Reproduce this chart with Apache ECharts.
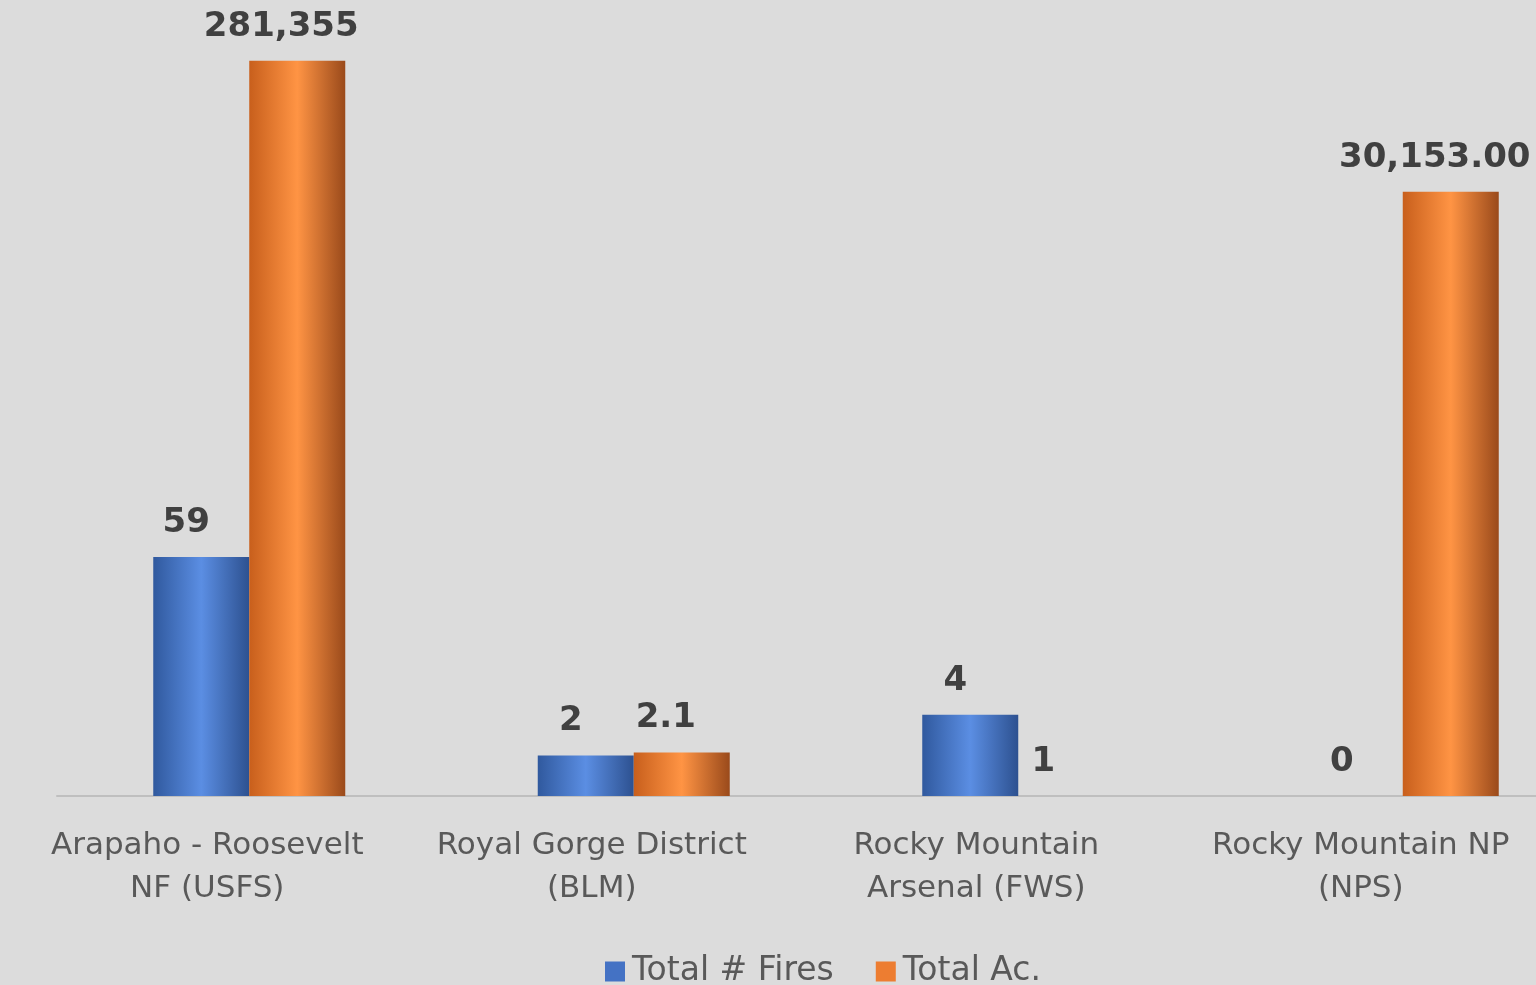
<!DOCTYPE html>
<html>
<head>
<meta charset="utf-8">
<script src="https://cdn.jsdelivr.net/npm/echarts@6/dist/echarts.min.js"></script>
<style>
  html, body { margin: 0; padding: 0; background: #dcdcdc; }
  #container { width: 1536px; height: 985px; }
</style>
</head>
<body>
<div id="container"></div>
<script>
var categories = ['Arapaho - Roosevelt\nNF (USFS)', 'Royal Gorge District\n(BLM)', 'Rocky Mountain\nArsenal (FWS)', 'Rocky Mountain NP\n(NPS)'];
var fires = [59, 2, 4, 0];
var acres = [281355, 2.1, 1, 30153];
var acresLabels = ['281,355', '2.1', '1', '30,153.00'];

var FONT = "'Comic Sans MS', 'DejaVu Sans', sans-serif";

var dom = document.getElementById('container');
var myChart = echarts.init(dom);

function barGrad(c1, c2, c3) {
    return new echarts.graphic.LinearGradient(0, 0, 1, 0, [
        { offset: 0, color: c1 },
        { offset: 0.5, color: c2 },
        { offset: 1, color: c3 }
    ]);
}

// log axis can't show 0, so zero values sit on the baseline (value 1)
function onLog(v) { return v > 0 ? v : 1; }

var option = {
    backgroundColor: '#dcdcdc',
    textStyle: { fontFamily: FONT },
    grid: { left: 57, width: 1538, top: 54, bottom: 189, outerBoundsMode: 'none', containLabel: false },
    legend: {
        left: 600,
        top: 950,
        itemWidth: 20,
        itemHeight: 20,
        itemGap: 42,
        icon: 'rect',
        textStyle: { fontFamily: FONT, fontSize: 33, color: '#595959', padding: [0, 0, 0, 2] },
        data: [
            { name: 'Total # Fires', itemStyle: { color: '#4472c4' } },
            { name: 'Total Ac.', itemStyle: { color: '#ed7d31' } }
        ]
    },
    xAxis: {
        type: 'category',
        data: categories,
        axisTick: { show: false },
        axisLine: { lineStyle: { color: '#bfbfbf', width: 2 } },
        axisLabel: {
            interval: 0,
            fontFamily: FONT,
            fontSize: 31,
            color: '#595959',
            lineHeight: 43,
            margin: 28,
            padding: [0, 84, 0, 0]
        }
    },
    yAxis: {
        type: 'log',
        logBase: 10,
        min: 1,
        max: Math.pow(10, 5.5),
        show: false,
        splitLine: { show: false }
    },
    series: [
        {
            name: 'Total # Fires',
            type: 'bar',
            barWidth: 96,
            barGap: '0%',
            itemStyle: { color: barGrad('#30599e', '#5b8ee3', '#2d5190') },
            label: {
                show: true,
                position: 'top',
                distance: 17,
                offset: [-15, 0],
                fontFamily: FONT,
                fontSize: 34,
                fontWeight: 'bold',
                color: '#404040',
                formatter: function (p) { return String(fires[p.dataIndex]); }
            },
            data: fires.map(function (v) {
                var d = { value: onLog(v) };
                if (v === 0) d.label = { offset: [-13, 0] };
                return d;
            })
        },
        {
            name: 'Total Ac.',
            type: 'bar',
            barWidth: 96,
            barGap: '0%',
            itemStyle: { color: barGrad('#c85f1c', '#ff9444', '#9a4a1b') },
            label: {
                show: true,
                position: 'top',
                distance: 17,
                offset: [-16, 0],
                fontFamily: FONT,
                fontSize: 34,
                fontWeight: 'bold',
                color: '#404040',
                formatter: function (p) { return acresLabels[p.dataIndex]; }
            },
            data: acres.map(function (v) {
                var d = { value: onLog(v) };
                if (v <= 1) d.label = { offset: [-23, 0] };
                return d;
            })
        }
    ]
};

if (option && typeof option === 'object') {
    myChart.setOption(option, true);
}
</script>
</body>
</html>
